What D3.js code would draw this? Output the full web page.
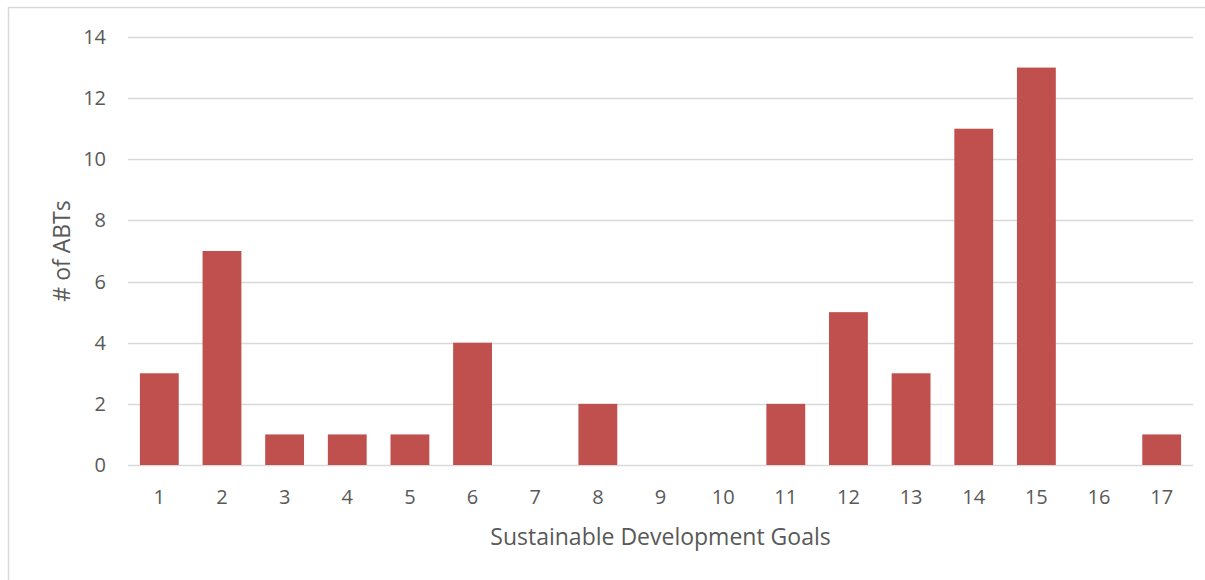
<!DOCTYPE html>
<html>
<head>
<meta charset="UTF-8" />
<title>ABTs by SDG</title>
<style>
  body { margin: 0; background: #fff; }
  svg { display: block; font-family: "Open Sans", sans-serif; }
  .grid line { stroke: #d9d9d9; stroke-width: 1.3px; }
  .tick-label { fill: #595959; font-size: 20px; }
  .axis-title { fill: #595959; font-size: 23px; }
  .bar { fill: #c0504d; }
</style>
<script src="https://d3js.org/d3.v7.min.js"></script>
</head>
<body>
<script>
// data
var goals = ["1","2","3","4","5","6","7","8","9","10","11","12","13","14","15","16","17"];
var abtCounts = [3, 7, 1, 1, 1, 4, 0, 2, 0, 0, 2, 5, 3, 11, 13, 0, 1];
var yTicks = [0, 2, 4, 6, 8, 10, 12, 14];

var width = 1205, height = 580;
var plot = {left: 128, right: 1193, top: 37, bottom: 465};

var svg = d3.select("body").append("svg")
    .attr("width", width)
    .attr("height", height);

// outer chart border
svg.append("rect")
    .attr("x", 8.5).attr("y", 7.5)
    .attr("width", 1205).attr("height", 600)
    .attr("fill", "#fff")
    .attr("stroke", "#d9d9d9")
    .attr("stroke-width", 1.5);

var x = d3.scaleBand()
    .domain(goals)
    .range([plot.left, plot.right])
    .paddingInner(0.38)
    .paddingOuter(0.19);

var y = d3.scaleLinear()
    .domain([0, 14])
    .range([plot.bottom, plot.top]);

// gridlines
svg.append("g").attr("class", "grid")
  .selectAll("line")
  .data(yTicks)
  .enter().append("line")
    .attr("x1", plot.left)
    .attr("x2", plot.right)
    .attr("y1", function(d) { return Math.round(y(d)) + 0.5; })
    .attr("y2", function(d) { return Math.round(y(d)) + 0.5; });

// y tick labels
svg.append("g")
  .selectAll("text")
  .data(yTicks)
  .enter().append("text")
    .attr("class", "tick-label")
    .attr("x", 106)
    .attr("y", function(d) { return y(d); })
    .attr("dy", "0.35em")
    .attr("text-anchor", "end")
    .text(function(d) { return d; });

// bars
svg.append("g")
  .selectAll("rect")
  .data(abtCounts)
  .enter().append("rect")
    .attr("class", "bar")
    .attr("x", function(d, i) { return x(goals[i]); })
    .attr("width", x.bandwidth())
    .attr("y", function(d) { return y(d); })
    .attr("height", function(d) { return y(0) - y(d); });

// x tick labels
svg.append("g")
  .selectAll("text")
  .data(goals)
  .enter().append("text")
    .attr("class", "tick-label")
    .attr("x", function(d) { return x(d) + x.bandwidth() / 2; })
    .attr("y", 497)
    .attr("dy", "0.35em")
    .attr("text-anchor", "middle")
    .text(function(d) { return d; });

// axis titles
svg.append("text")
    .attr("class", "axis-title")
    .attr("x", (plot.left + plot.right) / 2)
    .attr("y", 537)
    .attr("dy", "0.35em")
    .attr("text-anchor", "middle")
    .text("Sustainable Development Goals");

svg.append("text")
    .attr("class", "axis-title")
    .attr("transform", "translate(62," + ((plot.top + plot.bottom) / 2) + ")rotate(-90)")
    .attr("dy", "0.35em")
    .attr("text-anchor", "middle")
    .text("# of ABTs");
</script>
</body>
</html>
